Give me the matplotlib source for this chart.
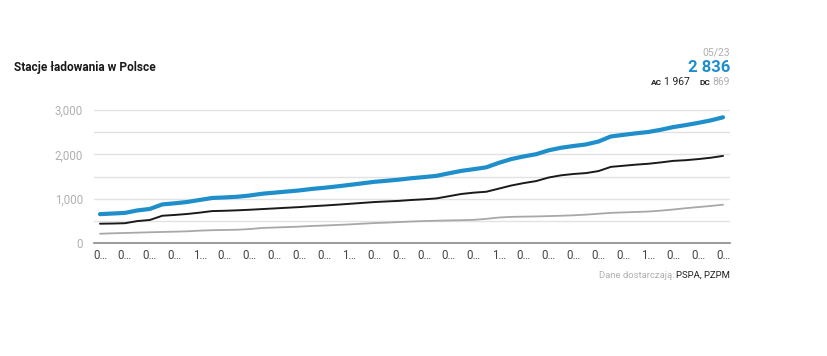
import matplotlib
matplotlib.use('Agg')
import matplotlib.pyplot as plt
import numpy as np

# monthly data 03/19 - 05/23
months = []
for y in range(19, 24):
    for m in range(1, 13):
        if (y == 19 and m < 3) or (y == 23 and m > 5):
            continue
        months.append(f"{m:02d}/{y}")

ac = [441, 445, 452, 500, 525, 620, 638, 660, 690, 725, 732, 742, 755, 770, 785,
      800, 815, 834, 850, 868, 888, 908, 928, 942, 955, 975, 990, 1010, 1060, 1110,
      1140, 1160, 1230, 1300, 1355, 1400, 1480, 1530, 1560, 1580, 1625, 1720, 1745,
      1770, 1790, 1820, 1855, 1870, 1895, 1925, 1967]
dc = [215, 225, 232, 240, 248, 255, 262, 270, 285, 295, 300, 305, 320, 345, 355,
      365, 375, 390, 400, 412, 425, 440, 455, 465, 478, 490, 500, 508, 515, 520,
      528, 550, 580, 595, 600, 605, 612, 620, 630, 645, 665, 685, 695, 705, 715,
      735, 760, 790, 815, 840, 869]
total = [a + d for a, d in zip(ac, dc)]

BLUE = '#1f8fcc'
plt.rcParams['font.family'] = ['Roboto', 'DejaVu Sans']

fig = plt.figure(figsize=(8.28, 3.56), dpi=100)
ax = fig.add_axes([94 / 828, 112.7 / 356, 636 / 828, 133.3 / 356])

x = np.arange(len(months))
ax.plot(x, dc, color='#a8a8a8', lw=1.3, solid_capstyle='round')
ax.plot(x, ac, color='#1a1a1a', lw=1.4, solid_capstyle='round')
ax.plot(x, total, color=BLUE, lw=3.0, solid_capstyle='round')

ax.set_xlim(-0.48, len(months) - 1 + 0.56)
ax.set_ylim(0, 3000)
ax.set_yticks([0, 1000, 2000, 3000])
ax.set_yticklabels(['0', '1,000', '2,000', '3,000'])
ax.set_yticks([500, 1500, 2500], minor=True)
ax.grid(axis='y', which='both', color='#e2e2e2', lw=1)
ax.set_axisbelow(True)

ticks = x[::2]
ax.set_xticks(ticks)
ax.set_xticklabels([months[i][0] + '\u2026' for i in ticks])

for s in ['top', 'right', 'left']:
    ax.spines[s].set_visible(False)
ax.spines['bottom'].set_color('#8a8a8a')
ax.spines['bottom'].set_linewidth(1.2)
ax.tick_params(axis='y', which='both', length=0, pad=8, labelsize=8.3, labelcolor='#b0b0b0')
ax.tick_params(axis='x', length=0, pad=4, labelsize=8.3, labelcolor='#444444')

fig.text(14 / 828, 1 - 67 / 356, 'Stacje ładowania w Polsce', fontsize=8.6,
         fontweight='bold', color='#1a1a1a', va='center', ha='left')

rx = 730 / 828
fig.text(rx, 1 - 52 / 356, months[-1], fontsize=7.5, color='#b0b0b0',
         ha='right', va='center')
fig.text(rx, 1 - 67 / 356, f"{total[-1]:,}".replace(',', ' '), fontsize=12,
         fontweight='bold', color=BLUE, ha='right', va='center')

renderer = fig.canvas.get_renderer()


def right_row(parts, xr, y):
    # place pieces right to left; gap = pixels left of each piece
    for s, kw, gap in reversed(parts):
        t = fig.text(xr, y, s, ha='right', va='baseline', **kw)
        bb = t.get_window_extent(renderer)
        xr = (bb.x0 - gap) / fig.bbox.width


small = dict(fontsize=7.5, color='#222222')
lab = dict(fontsize=6.0, fontweight='bold', color='#222222')
right_row([('AC', lab, 0),
           (f"{ac[-1]:,}".replace(',', ' '), small, 2),
           ('DC', lab, 10),
           (f"{dc[-1]}", dict(fontsize=7.5, color='#b0b0b0'), 2)],
          rx, 1 - 85 / 356)

right_row([('Dane dostarczają:', dict(fontsize=6.8, color='#b0b0b0'), 0),
           ('PSPA, PZPM', dict(fontsize=6.8, color='#222222'), 2)],
          rx, 1 - 278 / 356)

fig.savefig('out.png', dpi=100, facecolor='white')
plt.close()
